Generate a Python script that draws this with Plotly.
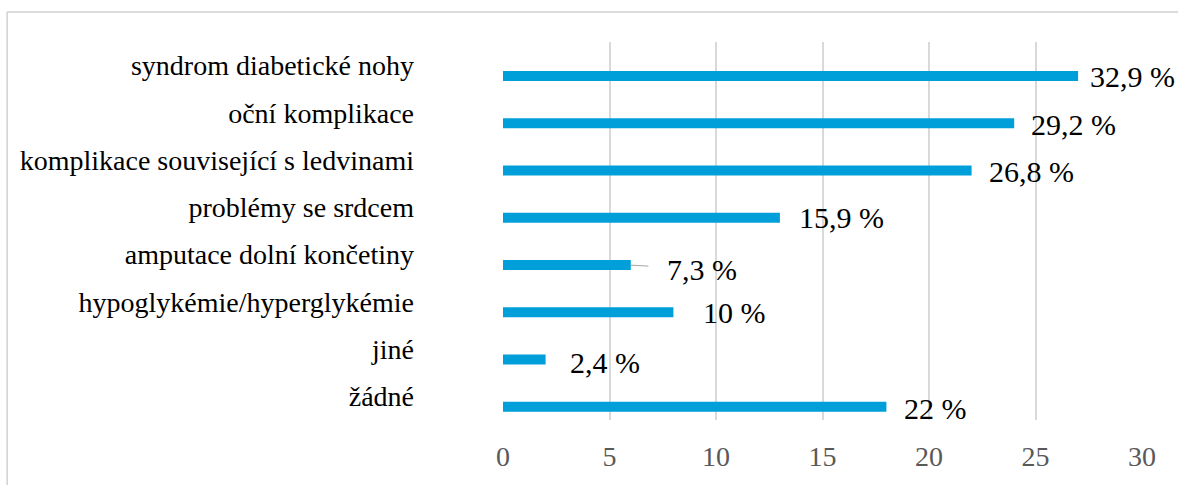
import plotly.graph_objects as go

categories = [
    "syndrom diabetické nohy",
    "oční komplikace",
    "komplikace související s ledvinami",
    "problémy se srdcem",
    "amputace dolní končetiny",
    "hypoglykémie/hyperglykémie",
    "jiné",
    "žádné",
]
bar_values = [27, 24, 22, 13, 6, 8, 2, 18]
value_labels = ["32,9 %", "29,2 %", "26,8 %", "15,9 %", "7,3 %", "10 %", "2,4 %", "22 %"]
tick_values = [0, 5, 10, 15, 20, 25, 30]

# label placement tweaks (pixels)
label_dx = [10, 15, 15, 17, 0, 28, 22, 16]
label_dy = [-11, -11.5, -11.5, -10, 0, -10.5, -13.5, -12]

BLUE = "#009FDA"
FONT = "Liberation Serif"

fig = go.Figure()
fig.add_trace(go.Bar(
    x=bar_values, y=categories, orientation="h",
    marker=dict(color=BLUE, line=dict(width=0)),
    offset=0.115, width=0.21,
    hoverinfo="skip",
))

for i, (cat, v, lab) in enumerate(zip(categories, bar_values, value_labels)):
    if i == 4:
        fig.add_annotation(
            x=v, y=cat, text=lab, showarrow=True, arrowhead=0,
            arrowcolor="#A6A6A6", arrowwidth=1,
            ax=71, ay=4, yshift=-10.5, startstandoff=17,
            font=dict(family=FONT, size=30, color="#000000"),
        )
    else:
        fig.add_annotation(
            x=v, y=cat, text=lab, showarrow=False,
            xanchor="left", yanchor="middle",
            xshift=label_dx[i], yshift=label_dy[i],
            font=dict(family=FONT, size=30, color="#000000"),
        )

# outer chart border (top and left edges visible)
fig.add_shape(type="line", xref="paper", yref="paper",
              x0=-0.776, x1=1.2, y0=1.0794, y1=1.0794,
              line=dict(color="#D0D0D0", width=1.5))
fig.add_shape(type="line", xref="paper", yref="paper",
              x0=-0.776, x1=-0.776, y0=-0.3, y1=1.0794,
              line=dict(color="#D0D0D0", width=1.5))

fig.update_layout(
    width=1178, height=485,
    margin=dict(l=503, r=36, t=42, b=65),
    paper_bgcolor="white", plot_bgcolor="white",
    showlegend=False,
    xaxis=dict(
        range=[0, 30], tickvals=tick_values, showgrid=True,
        gridcolor="#D9D9D9", gridwidth=1.5, zeroline=False, showline=False,
        tickfont=dict(family=FONT, size=28, color="#595959"),
        ticklabelstandoff=17, fixedrange=True,
    ),
    yaxis=dict(
        categoryorder="array", categoryarray=categories,
        range=[len(categories) - 0.5, -0.5],
        showgrid=False, zeroline=False, showline=False,
        tickfont=dict(family=FONT, size=28, color="#000000"),
        ticklabelstandoff=88, fixedrange=True,
    ),
)

fig.write_html(
    "out.html",
    config={"displayModeBar": False},
    post_script="document.body.style.margin='0';document.body.style.overflow='hidden';",
)
